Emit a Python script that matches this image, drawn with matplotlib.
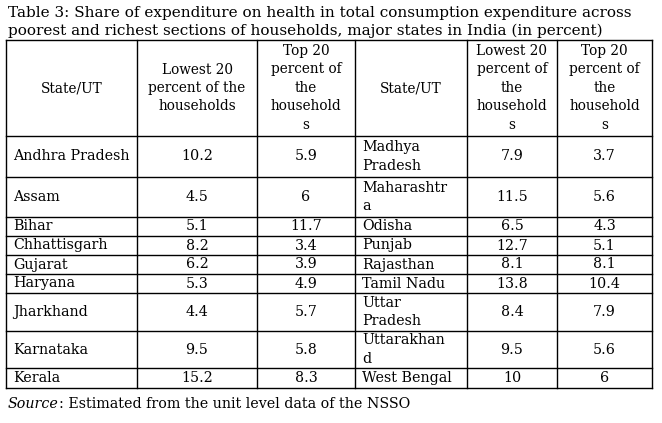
import matplotlib
matplotlib.use("Agg")
import matplotlib.pyplot as plt

title_lines = [
    "Table 3: Share of expenditure on health in total consumption expenditure across",
    "poorest and richest sections of households, major states in India (in percent)",
]
headers = [
    "State/UT",
    "Lowest 20\npercent of the\nhouseholds",
    "Top 20\npercent of\nthe\nhousehold\ns",
    "State/UT",
    "Lowest 20\npercent of\nthe\nhousehold\ns",
    "Top 20\npercent of\nthe\nhousehold\ns",
]
states_left = ["Andhra Pradesh", "Assam", "Bihar", "Chhattisgarh", "Gujarat",
               "Haryana", "Jharkhand", "Karnataka", "Kerala"]
lowest_left = [10.2, 4.5, 5.1, 8.2, 6.2, 5.3, 4.4, 9.5, 15.2]
top_left = [5.9, 6, 11.7, 3.4, 3.9, 4.9, 5.7, 5.8, 8.3]
states_right = ["Madhya\nPradesh", "Maharashtr\na", "Odisha", "Punjab", "Rajasthan",
                "Tamil Nadu", "Uttar\nPradesh", "Uttarakhan\nd", "West Bengal"]
lowest_right = [7.9, 11.5, 6.5, 12.7, 8.1, 13.8, 8.4, 9.5, 10]
top_right = [3.7, 5.6, 4.3, 5.1, 8.1, 10.4, 7.9, 5.6, 6]
source_label = "Source"
source_text = ": Estimated from the unit level data of the NSSO"

# layout (pixels)
col_edges = [6, 137, 257, 355, 467, 557, 652]
row_edges = [40, 136, 177, 217, 236, 255, 274, 293, 331, 368, 388]
left_cols = {0, 3}
pitch = 18.5
fs_title = 11.0
fs_head = 9.8
fs_body = 10.3
font = "DejaVu Serif"

fig = plt.figure(figsize=(6.62, 4.23), dpi=100)
ax = fig.add_axes([0, 0, 1, 1])
ax.set_xlim(0, 662)
ax.set_ylim(423, 0)
ax.axis("off")


def cell_text(text, col, top, bottom, fs, left=False):
    lines = text.split("\n")
    mid = (top + bottom) / 2
    if left:
        x, ha = col_edges[col] + 7, "left"
    else:
        x, ha = (col_edges[col] + col_edges[col + 1]) / 2, "center"
    for i, line in enumerate(lines):
        y = mid + (i - (len(lines) - 1) / 2) * pitch
        ax.text(x, y, line, ha=ha, va="center", fontsize=fs, family=font)


for i, line in enumerate(title_lines):
    ax.text(8, 13 + i * 18, line, ha="left", va="center", fontsize=fs_title, family=font)

# grid
for y in row_edges:
    ax.plot([col_edges[0], col_edges[-1]], [y, y], color="black", lw=1.0,
            solid_capstyle="projecting")
for x in col_edges:
    ax.plot([x, x], [row_edges[0], row_edges[-1]], color="black", lw=1.0,
            solid_capstyle="projecting")

for c, h in enumerate(headers):
    cell_text(h, c, row_edges[0], row_edges[1], fs_head)

rows = zip(states_left, lowest_left, top_left, states_right, lowest_right, top_right)
for r, vals in enumerate(rows):
    top, bottom = row_edges[r + 1], row_edges[r + 2]
    for c, v in enumerate(vals):
        txt = v if isinstance(v, str) else f"{v:g}"
        cell_text(txt, c, top, bottom, fs_body, left=c in left_cols)

src = ax.text(8, 404, source_label, ha="left", va="center", fontsize=fs_body,
              family=font, style="italic")
ax.annotate(source_text, xy=(1, 0), xycoords=src, ha="left", va="bottom",
            fontsize=fs_body, family=font)

fig.savefig("out.png", dpi=100)
